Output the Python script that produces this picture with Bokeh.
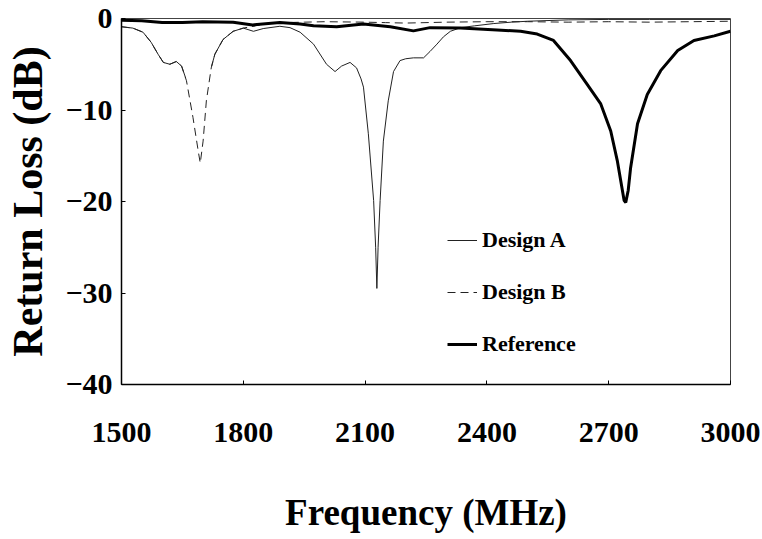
from bokeh.plotting import figure
from bokeh.models import Range1d, FixedTicker, Legend, LegendItem
from bokeh.embed import file_html
from bokeh.resources import INLINE

nan = float("nan")

# Design A (thin solid)
freq_a = [1500, 1528, 1553, 1573, 1590, 1603, 1619, 1635, 1648, 1658, 1690,
          1722, 1730, 1750, 1775, 1800, 1825, 1849, 1890, 1915, 1940, 1973,
          2005, 2026, 2042, 2063, 2079, 2090, 2096, 2108, 2121, 2126, 2129,
          2132, 2137, 2145, 2157, 2170, 2186, 2200, 2219, 2244, 2260, 2277,
          2293, 2310, 2335, 2370, 2417, 2460, 2500, 2600, 2700, 2800, 3000]
rl_a = [-0.9, -1.05, -1.5, -2.6, -3.9, -4.8, -5.0, -4.7, -5.2, -6.5, nan,
        -5.2, -3.9, -2.3, -1.4, -1.05, -1.4, -1.1, -0.85, -1.0, -1.5, -2.8,
        -5.0, -5.8, -5.2, -4.8, -5.4, -6.6, -7.5, -12.6, -19.9, -25.0, -29.5,
        -25.0, -19.9, -13.4, -9.0, -5.8, -4.6, -4.4, -4.3, -4.3, -3.6, -2.8,
        -2.0, -1.4, -1.0, -0.8, -0.55, -0.4, -0.3, -0.15, -0.1, -0.1, -0.1]

# Design B (dashed)
freq_b = [1500, 1528, 1553, 1573, 1590, 1603, 1619, 1635, 1648, 1660, 1676,
          1689, 1694, 1701, 1709, 1721, 1730, 1750, 1775, 1800, 1830, 1860,
          1900, 1950, 2000, 2100, 2150, 2200, 2250, 2300, 2400, 2500, 2600,
          2700, 2800, 2900, 3000]
rl_b = [-0.9, -1.05, -1.5, -2.6, -3.9, -4.8, -5.0, -4.7, -5.2, -6.8, -10.8,
        -14.5, -15.8, -13.4, -9.0, -5.4, -3.9, -2.3, -1.4, -1.05, -0.8, -0.55,
        -0.45, -0.4, -0.35, -0.4, -0.45, -0.5, -0.45, -0.4, -0.35, -0.35, -0.4,
        -0.35, -0.4, -0.35, -0.3]

# Reference (thick solid)
freq_r = [1500, 1550, 1600, 1650, 1700, 1775, 1823, 1890, 1940, 1973, 2030,
          2096, 2162, 2219, 2260, 2335, 2425, 2483, 2524, 2564, 2606, 2647,
          2680, 2705, 2721, 2738, 2742, 2748, 2754, 2771, 2795, 2828, 2870,
          2910, 2960, 3000]
rl_r = [-0.2, -0.25, -0.45, -0.45, -0.35, -0.4, -0.7, -0.45, -0.6, -0.8, -0.9,
        -0.6, -0.9, -1.35, -1.0, -1.05, -1.25, -1.4, -1.7, -2.4, -4.6, -7.2,
        -9.3, -12.3, -15.5, -19.9, -20.1, -18.8, -16.3, -11.5, -8.3, -5.7, -3.5,
        -2.4, -1.9, -1.4]

x_ticks = [1500, 1800, 2100, 2400, 2700, 3000]
y_ticks = [0, -10, -20, -30, -40]
series_names = ["Design A", "Design B", "Reference"]

FONT = "Liberation Serif"

p = figure(width=760, height=535, output_backend="svg",
           toolbar_location=None, x_range=Range1d(1500, 3000),
           y_range=Range1d(-40, 0),
           min_border_left=121, min_border_right=30, min_border_top=18,
           min_border_bottom=151)

p.xgrid.visible = False
p.ygrid.visible = False
p.outline_line_color = "#444444"
p.outline_line_width = 1

for ax in (p.xaxis[0], p.yaxis[0]):
    ax.axis_line_color = "black"
    ax.axis_line_width = 1.5
    ax.major_tick_in = 4
    ax.major_tick_out = 0
    ax.minor_tick_in = 0
    ax.minor_tick_out = 0
    ax.major_tick_line_color = "black"
    ax.major_label_text_font = FONT
    ax.major_label_text_font_style = "bold"
    ax.major_label_text_font_size = "30px"
    ax.major_label_text_color = "black"
    ax.axis_label_text_font = FONT
    ax.axis_label_text_font_style = "bold"
    ax.axis_label_text_color = "black"

p.xaxis.ticker = FixedTicker(ticks=x_ticks)
p.yaxis.ticker = FixedTicker(ticks=y_ticks)
p.xaxis.major_label_standoff = 38
p.yaxis.major_label_standoff = 9
p.xaxis.axis_label = "Frequency (MHz)"
p.yaxis.axis_label = "Return Loss (dB)"
p.xaxis.axis_label_text_font_size = "37px"
p.yaxis.axis_label_text_font_size = "42px"
p.xaxis.axis_label_standoff = 47
p.yaxis.axis_label_standoff = 11

ra = p.line(freq_a, rl_a, line_color="#222222", line_width=1)
rb = p.line(freq_b, rl_b, line_color="#222222", line_width=1, line_dash="8 5")
rr = p.line(freq_r, rl_r, line_color="black", line_width=3)

legend = Legend(items=[LegendItem(label=series_names[0], renderers=[ra]),
                       LegendItem(label=series_names[1], renderers=[rb]),
                       LegendItem(label=series_names[2], renderers=[rr])],
                location=(326, 27), padding=0, margin=0, spacing=26,
                glyph_width=30, glyph_height=22, label_height=22,
                label_standoff=5, border_line_alpha=0,
                background_fill_alpha=0,
                label_text_font=FONT, label_text_font_style="bold",
                label_text_font_size="22px", label_text_color="black")
p.add_layout(legend)

open("out.html", "w").write(file_html(p, INLINE))
